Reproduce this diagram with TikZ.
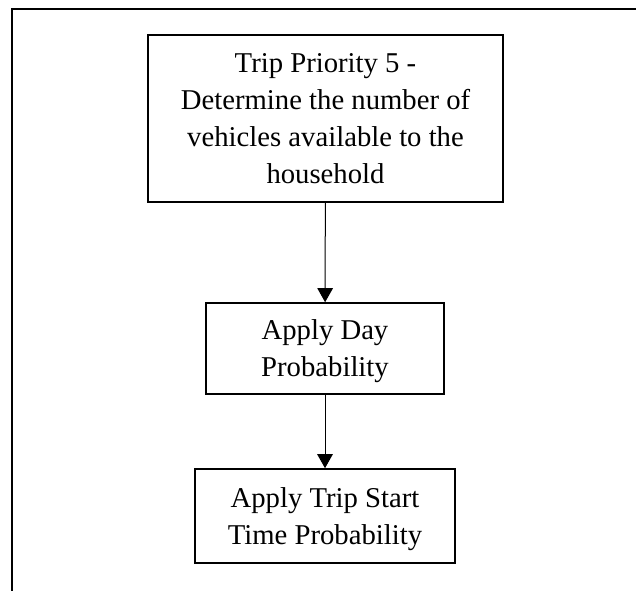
\documentclass[tikz,border=0pt]{standalone}
\usepackage{fontspec}
\setmainfont{Liberation Serif}
\usetikzlibrary{arrows.meta}
\begin{document}
\begin{tikzpicture}[x=1pt,y=-1pt,
  stepbox/.style={draw=black,line width=1.6pt,fill=white,align=center,
    inner sep=0pt,text depth=0pt,font=\fontsize{28.7pt}{37pt}\selectfont},
  flow/.style={line width=1pt,-{Triangle[length=14pt,width=15.5pt]}},
  frame/.style={line width=2.4pt,line cap=rect}]
\useasboundingbox (0,0) rectangle (636,590);
% partial outer frame (top and left edges)
\coordinate (ftopright) at (636,8.7);
\coordinate (fcorner) at (12,8.7);
\coordinate (fbottomleft) at (12,590);
\draw[frame] (ftopright) -- (fcorner) -- (fbottomleft);
% process steps
\node[stepbox,minimum width=355pt,minimum height=167pt] (prio) at (325.5,118.5)
  {Trip Priority 5 -\\Determine the number of\\vehicles available to the\\household};
\node[stepbox,minimum width=238pt,minimum height=91pt] (day) at (325,348.5)
  {Apply Day\\Probability};
\node[stepbox,minimum width=260pt,minimum height=94pt] (start) at (325,516)
  {Apply Trip Start\\Time Probability};
% connectors
\draw[flow] (prio) -- (day);
\draw[flow] (day) -- (start);
\end{tikzpicture}
\end{document}
